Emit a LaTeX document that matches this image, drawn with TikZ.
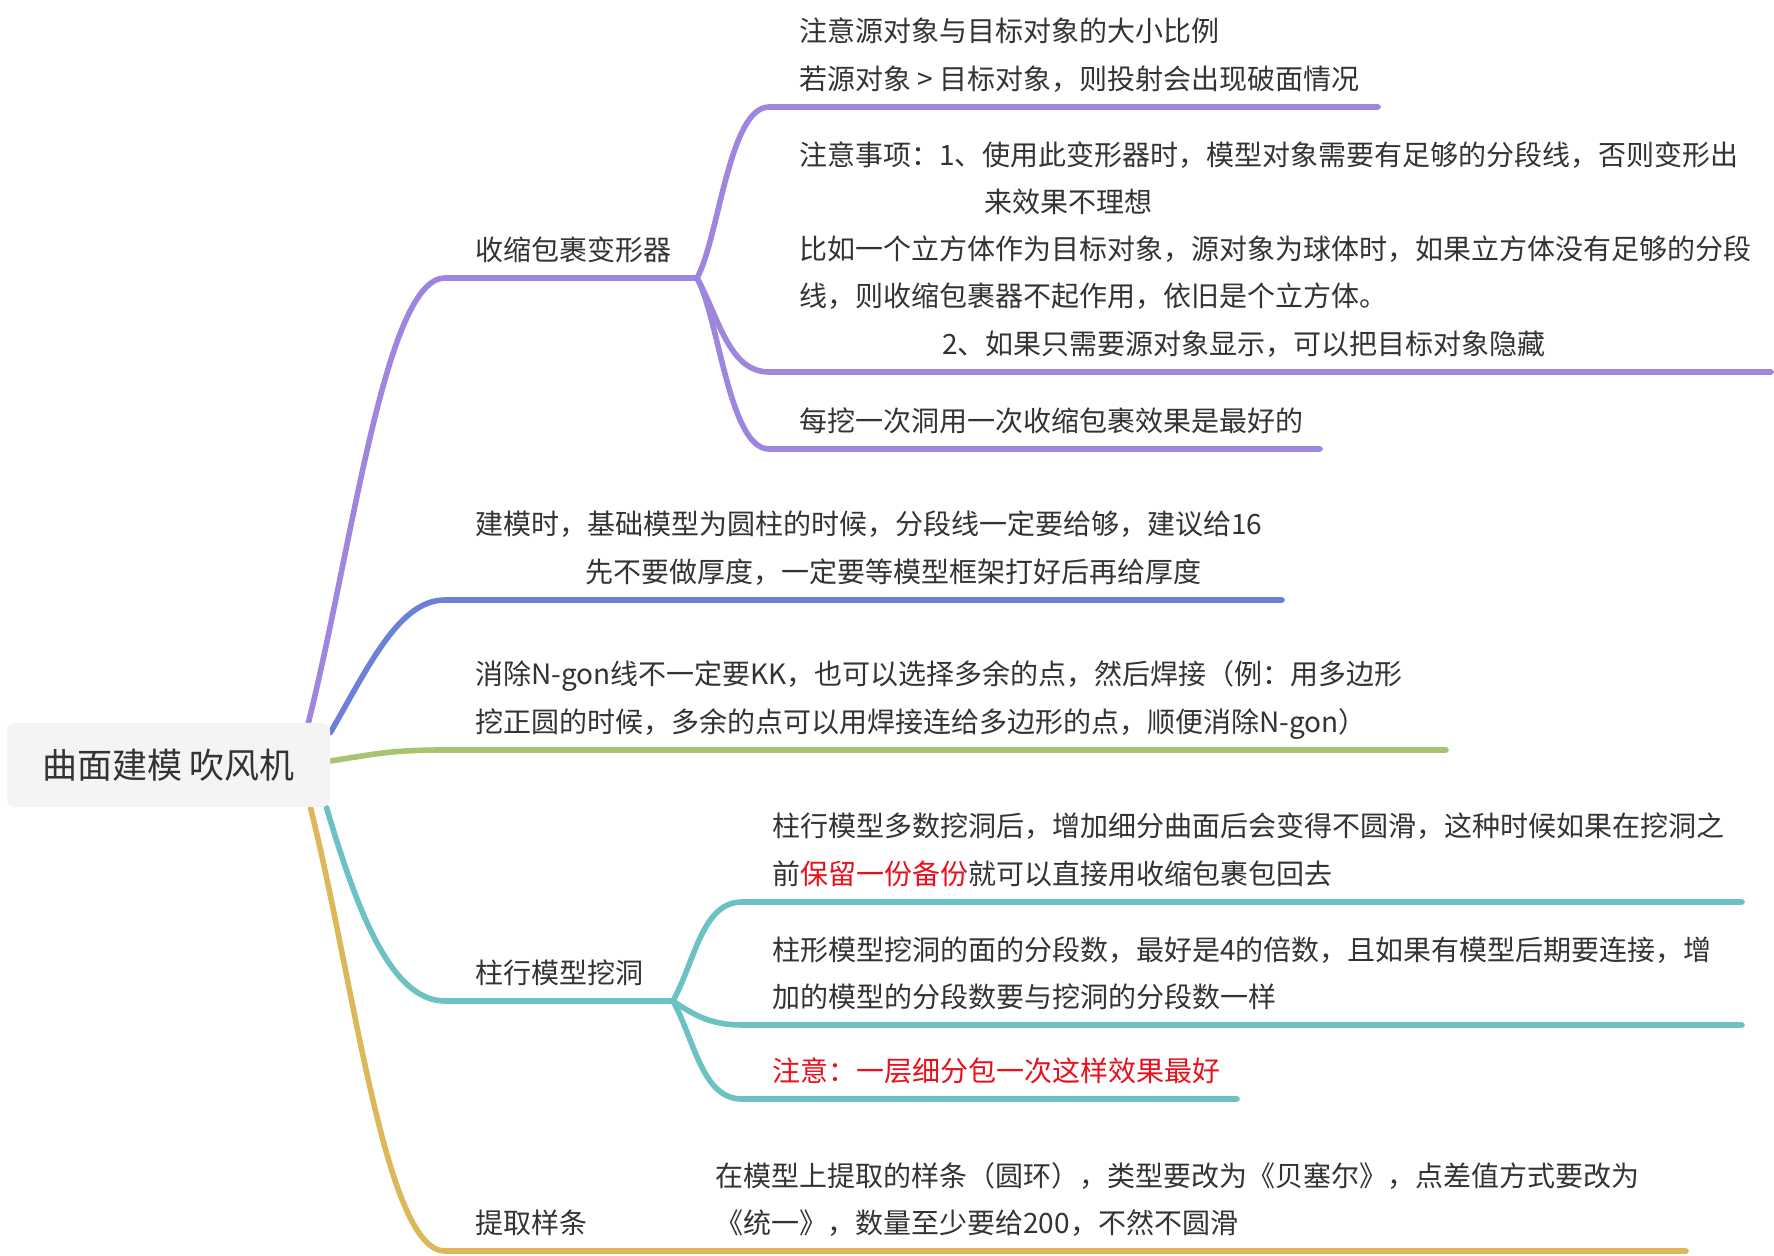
\documentclass[tikz,border=0pt]{standalone}
\usepackage{fontspec}
\usepackage{xcolor}
\usepackage{tikz}
\usetikzlibrary{positioning,backgrounds}
\newfontfamily\cjk{Noto Sans CJK SC}
\definecolor{ink}{HTML}{333333}
\definecolor{rootbg}{HTML}{F4F4F4}
\definecolor{brpurple}{HTML}{9E85DD}
\definecolor{brblue}{HTML}{6C80D8}
\definecolor{brgreen}{HTML}{A8C46E}
\definecolor{brteal}{HTML}{6CC2C2}
\definecolor{brgold}{HTML}{DDB85A}
\definecolor{hlred}{HTML}{E8101C}

\begin{document}
\begin{tikzpicture}[x=0.5pt,y=-0.5pt,
    branch/.style={line width=2.8pt, line cap=round},
    topic/.style={inner sep=0pt, text=ink, align=left, text depth=1.7pt,
                  font=\cjk\fontsize{14}{23.6}\selectfont}]
  \useasboundingbox (0,0) rectangle (1774,1256);

  \node(root)[fill=rootbg, rounded corners=4pt, minimum width=161.5pt,
              minimum height=42pt, text=ink,
              font=\cjk\fontsize{17.5}{20}\selectfont] at (168.5,765)
  {曲面建模 吹风机};

  % underline ends
  \coordinate (a)  at (445,278);  \coordinate (aj)  at (697,278);
  \coordinate (a1) at (769,107);  \coordinate (a1e) at (1378,107);
  \coordinate (a2) at (769,372);  \coordinate (a2e) at (1771,372);
  \coordinate (a3) at (769,449);  \coordinate (a3e) at (1320,449);
  \coordinate (b)  at (445,600);  \coordinate (be)  at (1282,600);
  \coordinate (c)  at (445,750);  \coordinate (ce)  at (1446,750);
  \coordinate (d)  at (445,1001); \coordinate (dj)  at (673,1001);
  \coordinate (d1) at (742,902);  \coordinate (d1e) at (1742,902);
  \coordinate (d2) at (742,1025); \coordinate (d2e) at (1742,1025);
  \coordinate (d3) at (742,1099); \coordinate (d3e) at (1237,1099);
  \coordinate (e)  at (445,1251); \coordinate (ee)  at (1686,1251);

  \begin{scope}[on background layer]
    \draw[branch,brpurple] ([xshift=-11pt]root.north east)
      .. controls +(44,-175) and +(-60,0) .. (a) -- (aj);
    \draw[branch,brblue] ([yshift=-5pt]root.north east)
      .. controls +(40,-70) and +(-45,0) .. (b) -- (be);
    \draw[branch,brgreen] ([yshift=2pt]root.east)
      .. controls +(50,-8) and +(-50,0) .. (c) -- (ce);
    \draw[branch,brteal] ([xshift=-2pt]root.south east)
      .. controls +(30,100) and +(-55,0) .. (d) -- (dj);
    \draw[branch,brgold] ([xshift=-10pt]root.south east)
      .. controls +(44,175) and +(-60,0) .. (e) -- (ee);
  \end{scope}

  \draw[branch,brpurple] (aj) .. controls +(22,-40) and +(-40,0) .. (a1) -- (a1e);
  \draw[branch,brpurple] (aj) .. controls +(22,40) and +(-40,0) .. (a2) -- (a2e);
  \draw[branch,brpurple] (aj) .. controls +(22,40) and +(-40,0) .. (a3) -- (a3e);

  \draw[branch,brteal] (dj) .. controls +(22,-40) and +(-40,0) .. (d1) -- (d1e);
  \draw[branch,brteal] (dj) .. controls +(22,15) and +(-30,0) .. (d2) -- (d2e);
  \draw[branch,brteal] (dj) .. controls +(22,40) and +(-40,0) .. (d3) -- (d3e);

  \node(atxt)[topic, above right=7pt and 15pt of a] {收缩包裹变形器};
  \node(a1txt)[topic, above right=7pt and 15pt of a1]
  {注意源对象与目标对象的大小比例\\若源对象 > 目标对象，则投射会出现破面情况};
  \node(a2txt)[topic, above right=7pt and 15pt of a2]
  {注意事项：1、使用此变形器时，模型对象需要有足够的分段线，否则变形出\\
   \hspace*{92.5pt}来效果不理想\\
   比如一个立方体作为目标对象，源对象为球体时，如果立方体没有足够的分段\\
   线，则收缩包裹器不起作用，依旧是个立方体。\\
   \hspace*{71.5pt}2、如果只需要源对象显示，可以把目标对象隐藏};
  \node(a3txt)[topic, above right=7pt and 15pt of a3]
  {每挖一次洞用一次收缩包裹效果是最好的};

  \node(btxt)[topic, above right=7pt and 15pt of b]
  {建模时，基础模型为圆柱的时候，分段线一定要给够，建议给16\\
   \hspace*{55pt}先不要做厚度，一定要等模型框架打好后再给厚度};

  \node(ctxt)[topic, above right=7pt and 15pt of c]
  {消除N-gon线不一定要KK，也可以选择多余的点，然后焊接（例：用多边形\\
   挖正圆的时候，多余的点可以用焊接连给多边形的点，顺便消除N-gon）};

  \node(dtxt)[topic, above right=7pt and 15pt of d] {柱行模型挖洞};
  \node(d1txt)[topic, above right=7pt and 15pt of d1]
  {柱行模型多数挖洞后，增加细分曲面后会变得不圆滑，这种时候如果在挖洞之\\
   前\textcolor{hlred}{保留一份备份}就可以直接用收缩包裹包回去};
  \node(d2txt)[topic, above right=7pt and 15pt of d2]
  {柱形模型挖洞的面的分段数，最好是4的倍数，且如果有模型后期要连接，增\\
   加的模型的分段数要与挖洞的分段数一样};
  \node(d3txt)[topic, text=hlred, above right=7pt and 15pt of d3]
  {注意：一层细分包一次这样效果最好};

  \node(etxt)[topic, above right=7pt and 15pt of e] {提取样条};
  \node(e1txt)[topic, above right=7pt and 135pt of e]
  {在模型上提取的样条（圆环），类型要改为《贝塞尔》，点差值方式要改为\\
   《统一》，数量至少要给200，不然不圆滑};
\end{tikzpicture}
\end{document}
